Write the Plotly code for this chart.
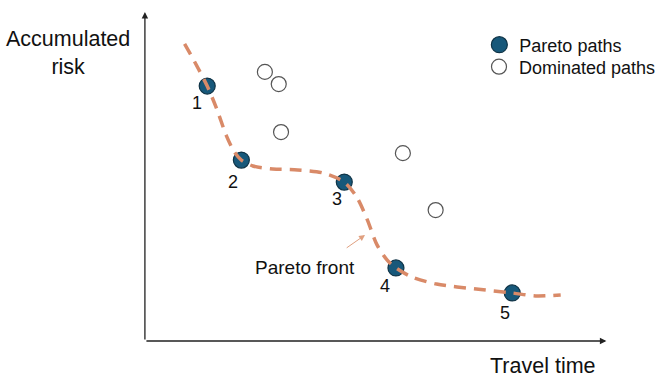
import plotly.graph_objects as go

# ---- data (arbitrary units: travel time, accumulated risk) ----
pareto_time = [1.35, 2.09, 4.32, 5.44, 7.96]
pareto_risk = [7.75, 5.50, 4.83, 2.22, 1.46]
pareto_labels = ["1", "2", "3", "4", "5"]

dominated_time = [2.60, 2.90, 2.95, 5.59, 6.30]
dominated_risk = [8.18, 7.81, 6.35, 5.71, 3.98]

front_time = [0.86, 1.08, 1.35, 1.55, 1.76, 1.94, 2.09, 2.34, 2.77, 3.31, 3.85,
              4.32, 4.60, 4.82, 5.03, 5.25, 5.44, 5.78, 6.32, 7.18, 7.96, 8.47, 9.01]
front_risk = [9.03, 8.48, 7.75, 7.08, 6.26, 5.74, 5.50, 5.32, 5.23, 5.20, 5.11,
              4.83, 4.35, 3.68, 2.92, 2.46, 2.22, 1.95, 1.73, 1.58, 1.46, 1.37, 1.40]

axis_max_time = 10.0
axis_max_risk = 10.0

# label offsets (pixels) for the point numbers
label_dx = [-10, -8, -7, -11, -7]
label_dy = [-17, -22, -17, -18, -20]

FONT = "Liberation Sans, Arial, sans-serif"
PARETO_FILL = "#17587a"
PARETO_EDGE = "#0f3346"
CURVE = "#d98a68"

fig = go.Figure()

fig.add_trace(go.Scatter(
    x=pareto_time, y=pareto_risk, mode="markers", name="Pareto paths",
    legend="legend",
    marker=dict(size=16, color=PARETO_FILL, line=dict(color=PARETO_EDGE, width=1.2)),
))
fig.add_trace(go.Scatter(
    x=dominated_time, y=dominated_risk, mode="markers", name="Dominated paths",
    legend="legend2",
    marker=dict(size=15, color="white", line=dict(color="#555555", width=1.2)),
))
fig.add_trace(go.Scatter(
    x=front_time, y=front_risk, mode="lines", showlegend=False, hoverinfo="skip",
    line=dict(color=CURVE, width=3.5, dash="12px,8px", shape="spline", smoothing=0.8),
))

annotations = []
# axes with arrows
annotations.append(dict(x=0, y=axis_max_risk, ax=0, ay=0, xref="x", yref="y",
                        axref="x", ayref="y", text="", showarrow=True,
                        arrowhead=2, arrowsize=1, arrowwidth=1.3,
                        arrowcolor="#222222", standoff=0, startstandoff=0))
annotations.append(dict(x=axis_max_time, y=0, ax=0, ay=0, xref="x", yref="y",
                        axref="x", ayref="y", text="", showarrow=True,
                        arrowhead=2, arrowsize=1, arrowwidth=1.3,
                        arrowcolor="#222222", standoff=0, startstandoff=0))
# point numbers
for xv, yv, t, dx, dy in zip(pareto_time, pareto_risk, pareto_labels, label_dx, label_dy):
    annotations.append(dict(x=xv, y=yv, text=t, showarrow=False, xshift=dx, yshift=dy,
                            font=dict(family=FONT, size=18, color="#111111")))
# Pareto front label and arrow
annotations.append(dict(x=3.46, y=2.22, text="Pareto front", showarrow=False,
                        font=dict(family=FONT, size=19, color="#111111")))
annotations.append(dict(x=4.77, y=3.22, ax=4.34, ay=2.80, xref="x", yref="y",
                        axref="x", ayref="y", text="", showarrow=True,
                        arrowhead=2, arrowsize=1.2, arrowwidth=1,
                        arrowcolor="#e0a080", standoff=0))
# axis titles
annotations.append(dict(x=69 / 661, y=1 - 53 / 378, xref="paper", yref="paper",
                        xanchor="center", yanchor="middle",
                        text="Accumulated<br>risk", showarrow=False,
                        font=dict(family=FONT, size=21.5, color="#111111")))
annotations.append(dict(x=547 / 661, y=1 - 366 / 378, xref="paper", yref="paper",
                        xanchor="center", yanchor="middle",
                        text="Travel time", showarrow=False,
                        font=dict(family=FONT, size=21.5, color="#111111")))

legend_style = dict(xanchor="left", yanchor="middle",
                    font=dict(family=FONT, size=18, color="#111111"),
                    bgcolor="rgba(0,0,0,0)", itemwidth=30, tracegroupgap=0)

fig.update_layout(
    width=661, height=378,
    margin=dict(l=0, r=0, t=0, b=0),
    plot_bgcolor="white", paper_bgcolor="white",
    xaxis=dict(range=[-3.14, 11.075], visible=False, fixedrange=True),
    yaxis=dict(range=[-1.125, 10.365], visible=False, fixedrange=True),
    showlegend=True,
    legend=dict(x=483 / 661, y=1 - 45 / 378, **legend_style),
    legend2=dict(x=483 / 661, y=1 - 67 / 378, **legend_style),
    annotations=annotations,
)

fig.write_html("out.html", config={"displayModeBar": False},
               post_script="document.body.style.margin='0';"
                           "document.body.style.overflow='hidden';")
